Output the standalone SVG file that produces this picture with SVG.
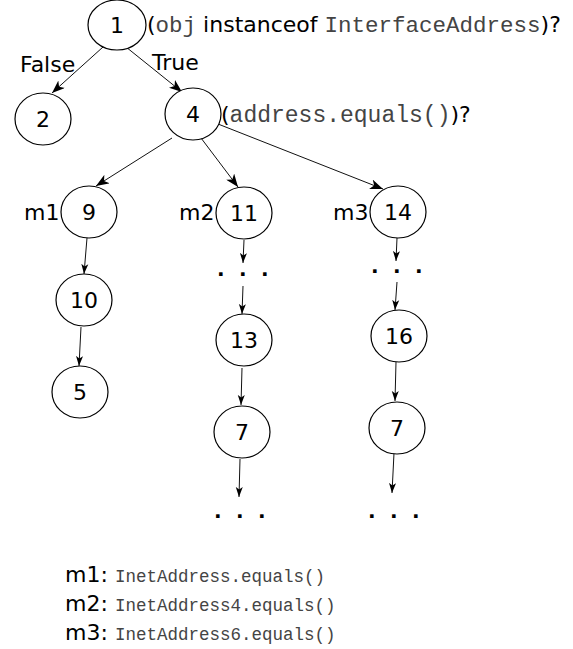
<svg xmlns="http://www.w3.org/2000/svg" width="573" height="649" viewBox="0 0 573 649">
<style>
.n ellipse{fill:#fff;stroke:#000;stroke-width:1.2}
.n text,.lab{font-family:"DejaVu Sans",sans-serif;font-size:22px;fill:#000}
.n text{text-anchor:middle}
.mono{font-family:"Liberation Mono","Courier New",monospace;fill:#444}
.c line{stroke:#111;stroke-width:1}
.big{marker-end:url(#ab)}
.sm{marker-end:url(#as)}
.dots{font-family:"DejaVu Sans",sans-serif;font-size:20px;font-weight:bold;fill:#000}
</style>
<defs>
<marker id="ab" markerUnits="userSpaceOnUse" markerWidth="14" markerHeight="10" refX="13" refY="5" orient="auto" viewBox="0 0 14 10">
<path d="M0,0 L13,5 L0,10 L3.5,5 Z" fill="#000"/>
</marker>
<marker id="as" markerUnits="userSpaceOnUse" markerWidth="10" markerHeight="8" refX="10" refY="4" orient="auto" viewBox="0 0 10 8">
<path d="M0,0.5 L10,4 L0,7.5 L2.5,4 Z" fill="#000"/>
</marker>
</defs>
<g class="c" id="connectors">
<line class="big" x1="103" y1="47" x2="52" y2="93"/>
<line class="big" x1="126" y1="47" x2="182" y2="92"/>
<line class="big" x1="172" y1="138" x2="96" y2="186"/>
<line class="big" x1="201" y1="138" x2="238" y2="187"/>
<line class="big" x1="218" y1="124" x2="383" y2="189"/>
<line class="sm" x1="87" y1="238" x2="84" y2="274"/>
<line class="sm" x1="81" y1="327" x2="79" y2="366"/>
<line class="sm" x1="244" y1="240" x2="243" y2="263"/>
<line class="sm" x1="243" y1="286" x2="242" y2="314"/>
<line class="sm" x1="242" y1="368" x2="241" y2="405"/>
<line class="sm" x1="240" y1="459" x2="239" y2="497"/>
<line class="sm" x1="397" y1="238" x2="396" y2="261"/>
<line class="sm" x1="397" y1="282" x2="395" y2="310"/>
<line class="sm" x1="396" y1="362" x2="395" y2="401"/>
<line class="sm" x1="394" y1="453" x2="392" y2="493"/>
</g>
<g class="n" id="n1"><ellipse cx="117" cy="25" rx="29" ry="25"/><text x="117" y="33">1</text></g>
<g class="n" id="n2"><ellipse cx="43" cy="119" rx="28" ry="26"/><text x="43" y="127">2</text></g>
<g class="n" id="n4"><ellipse cx="193" cy="114" rx="28" ry="26"/><text x="193" y="122">4</text></g>
<g class="n" id="n9"><ellipse cx="89" cy="212" rx="28" ry="26"/><text x="89" y="220">9</text></g>
<g class="n" id="n10"><ellipse cx="84" cy="300" rx="28" ry="26"/><text x="84" y="308">10</text></g>
<g class="n" id="n5"><ellipse cx="80" cy="392" rx="28" ry="26"/><text x="80" y="400">5</text></g>
<g class="n" id="n11"><ellipse cx="244" cy="213" rx="28" ry="26"/><text x="244" y="221">11</text></g>
<g class="n" id="n13"><ellipse cx="244" cy="340" rx="28" ry="26"/><text x="244" y="348">13</text></g>
<g class="n" id="n7a"><ellipse cx="242" cy="432" rx="28" ry="26"/><text x="242" y="440">7</text></g>
<g class="n" id="n14"><ellipse cx="398" cy="212" rx="28" ry="26"/><text x="398" y="220">14</text></g>
<g class="n" id="n16"><ellipse cx="399" cy="336" rx="28" ry="26"/><text x="399" y="344">16</text></g>
<g class="n" id="n7b"><ellipse cx="397" cy="428" rx="28" ry="26"/><text x="397" y="436">7</text></g>
<g id="labels">
<text class="lab" x="147" y="32">(<tspan class="mono" font-size="22.5">obj</tspan><tspan dx="7">instanceof</tspan><tspan class="mono" font-size="22.5" dx="7">InterfaceAddress</tspan>)?</text>
<text class="lab" x="20" y="72">False</text>
<text class="lab" x="152" y="70">True</text>
<text class="lab" x="221" y="122">(<tspan class="mono" font-size="23">address.equals()</tspan>)?</text>
<text class="lab" x="24" y="220">m1</text>
<text class="lab" x="179" y="220">m2</text>
<text class="lab" x="333" y="220">m3</text>
<text class="dots" x="217 228 239 250 261" y="276">. . .</text>
<text class="dots" x="371 382 393 404 415" y="273">. . .</text>
<text class="dots" x="214 225 236 247 258" y="518">. . .</text>
<text class="dots" x="368 379 390 401 412" y="518">. . .</text>
<text class="lab" x="65" y="582">m1:<tspan class="mono" font-size="17.5" x="115">InetAddress.equals()</tspan></text>
<text class="lab" x="65" y="611">m2:<tspan class="mono" font-size="17.5" x="115">InetAddress4.equals()</tspan></text>
<text class="lab" x="65" y="640">m3:<tspan class="mono" font-size="17.5" x="115">InetAddress6.equals()</tspan></text>
</g>
</svg>
